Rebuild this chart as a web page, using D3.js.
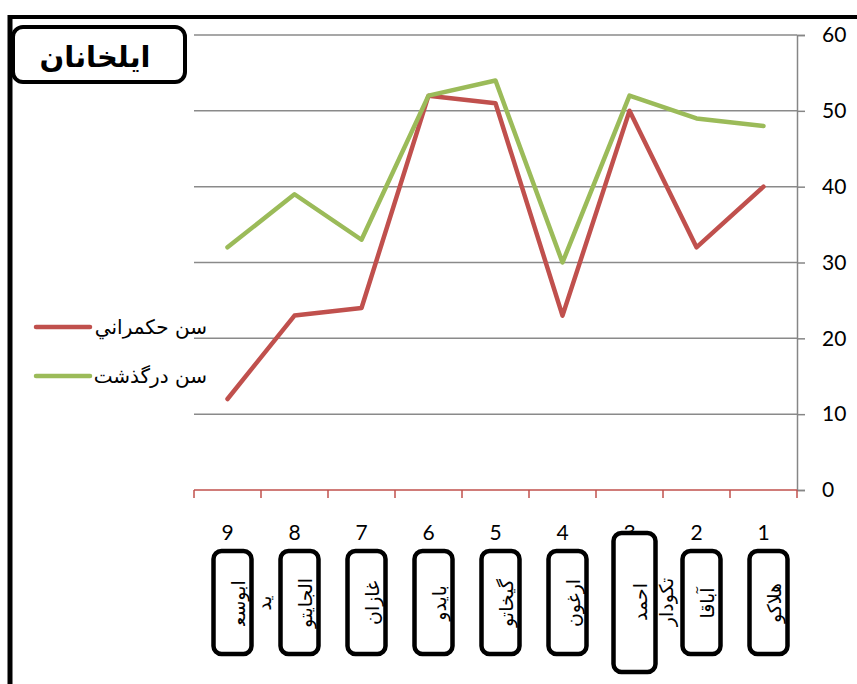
<!DOCTYPE html>
<html>
<head>
<meta charset="utf-8">
<script src="https://cdn.jsdelivr.net/npm/d3@7"></script>
<style>
  body { margin: 0; background: #fff; }
  svg { display: block; }
  .num { font-family: Lato, "Open Sans", sans-serif; }
  .fa { font-family: "DejaVu Sans", sans-serif; }
</style>
</head>
<body>
<svg id="chart" width="857" height="684"></svg>
<script>
// categories (ruler order)
const categories = [1, 2, 3, 4, 5, 6, 7, 8, 9];
const rulerNames = [
  ['هلاکو'],
  ['آباقا'],
  ['احمد', 'تکودار'],
  ['ارغون'],
  ['گیخاتو'],
  ['بایدو'],
  ['غازان'],
  ['الجایتو'],
  ['ابوسع\u200D', 'ید']
];
// ages
const reignAge = [40, 32, 50, 23, 51, 52, 24, 23, 12];
const deathAge = [48, 49, 52, 30, 54, 52, 33, 39, 32];
const seriesNames = ['سن حکمراني', 'سن درگذشت'];
const yTicks = [0, 10, 20, 30, 40, 50, 60];
const chartTitle = 'ایلخانان';

const series = [
  {name: seriesNames[0], values: reignAge, color: '#c0504d'},
  {name: seriesNames[1], values: deathAge, color: '#9bbb59'}
];

const svg = d3.select('#chart');

const plotL = 194, plotR = 797, plotT = 35, plotB = 490;

// x runs right-to-left: 1 at the right edge
const x = d3.scaleBand()
  .domain(categories.slice().reverse())
  .range([plotL, plotR])
  .paddingInner(0).paddingOuter(0);
const cx = (c) => x(c) + x.bandwidth() / 2;

const y = d3.scaleLinear().domain([0, 60]).range([plotB, plotT]);

// outer frame (top + left only)
svg.append('line')
  .attr('x1', 8).attr('x2', 857).attr('y1', 17).attr('y2', 17)
  .attr('stroke', '#000').attr('stroke-width', 4);
svg.append('line')
  .attr('x1', 10).attr('x2', 10).attr('y1', 15).attr('y2', 684)
  .attr('stroke', '#000').attr('stroke-width', 5);

// gridlines
svg.append('g')
  .selectAll('line')
  .data(yTicks.filter(t => t > 0))
  .join('line')
    .attr('x1', plotL).attr('x2', plotR)
    .attr('y1', d => y(d)).attr('y2', d => y(d))
    .attr('stroke', '#8a8a8a').attr('stroke-width', 1.5);

// y axis on the right
const yAxis = svg.append('g')
  .attr('transform', `translate(${plotR},0)`)
  .call(d3.axisRight(y).tickValues(yTicks).tickSize(8).tickPadding(17));
yAxis.select('.domain').attr('stroke', '#868686').attr('stroke-width', 1.5);
yAxis.selectAll('.tick line').attr('stroke', '#868686').attr('stroke-width', 1.5);
yAxis.selectAll('.tick text')
  .attr('class', 'num')
  .style('font-size', '21px')
  .attr('fill', '#000');

// x axis (red) with boundary ticks
const xg = svg.append('g');
xg.append('line')
  .attr('x1', plotL).attr('x2', plotR)
  .attr('y1', plotB).attr('y2', plotB)
  .attr('stroke', '#c0504d').attr('stroke-width', 1.5);
const bounds = categories.map(c => x(c)).concat([plotR]);
xg.selectAll('line.tk')
  .data(bounds)
  .join('line')
    .attr('class', 'tk')
    .attr('x1', d => d).attr('x2', d => d)
    .attr('y1', plotB).attr('y2', plotB + 8)
    .attr('stroke', '#c0504d').attr('stroke-width', 1.5);

// series lines
const line = d3.line()
  .x((d, i) => cx(categories[i]))
  .y(d => y(d));

svg.append('g')
  .selectAll('path')
  .data(series)
  .join('path')
    .attr('d', d => line(d.values))
    .attr('fill', 'none')
    .attr('stroke', d => d.color)
    .attr('stroke-width', 4.5)
    .attr('stroke-linejoin', 'round')
    .attr('stroke-linecap', 'round');

// category numbers
svg.append('g')
  .selectAll('text')
  .data(categories)
  .join('text')
    .attr('class', 'num')
    .attr('x', d => cx(d))
    .attr('y', 540)
    .attr('text-anchor', 'middle')
    .style('font-size', '21px')
    .text(d => d);

// ruler name boxes, text rotated
const tall = new Set([3]);
const boxes = svg.append('g')
  .selectAll('g')
  .data(categories)
  .join('g')
    .attr('transform', d => `translate(${cx(d) + 5},0)`);

boxes.append('rect')
  .attr('x', d => tall.has(d) ? -21 : -19)
  .attr('width', d => tall.has(d) ? 42 : 38)
  .attr('y', d => tall.has(d) ? 533 : 551)
  .attr('height', d => tall.has(d) ? 139 : 103)
  .attr('rx', 8)
  .attr('fill', '#fff')
  .attr('stroke', '#000')
  .attr('stroke-width', 4.5);

boxes.each(function(d, i) {
  const g = d3.select(this),
        lines = rulerNames[i],
        cy = tall.has(d) ? 602 : 603;
  lines.forEach(function(t, j) {
    g.append('text')
      .attr('class', 'fa')
      .attr('transform', `translate(${6 + j * 26},${cy}) rotate(-90)`)
      .attr('text-anchor', 'middle')
      .attr('dy', '0.35em')
      .style('font-size', '19px')
      .text(t);
  });
});

// title box
svg.append('rect')
  .attr('x', 13).attr('y', 27)
  .attr('width', 172).attr('height', 55)
  .attr('rx', 10)
  .attr('fill', '#fff')
  .attr('stroke', '#000')
  .attr('stroke-width', 4);
svg.append('text')
  .attr('class', 'fa')
  .attr('x', 95).attr('y', 57)
  .attr('text-anchor', 'middle')
  .attr('dy', '0.35em')
  .style('font-size', '29px')
  .style('font-weight', 'bold')
  .text(chartTitle);

// legend
const leg = svg.append('g')
  .selectAll('g')
  .data(series)
  .join('g')
    .attr('transform', (d, i) => `translate(0,${327 + i * 49})`);
leg.append('line')
  .attr('x1', 36).attr('x2', 90)
  .attr('stroke', d => d.color)
  .attr('stroke-width', 4.5)
  .attr('stroke-linecap', 'round');
leg.append('text')
  .attr('class', 'fa')
  .attr('x', 207)
  .attr('text-anchor', 'start')
  .attr('dy', '0.35em')
  .style('font-size', '20px')
  .style('direction', 'rtl')
  .text(d => d.name);
</script>
</body>
</html>
